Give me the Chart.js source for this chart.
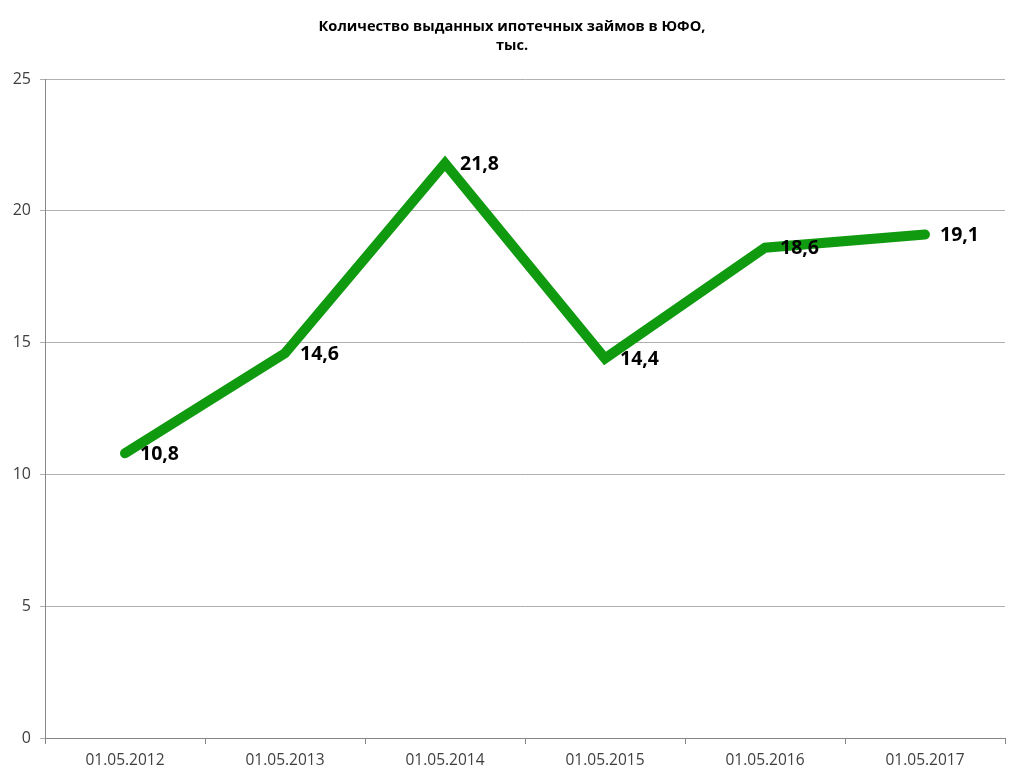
<!DOCTYPE html>
<html>
<head>
<meta charset="utf-8">
<script src="https://cdn.jsdelivr.net/npm/chart.js@4.4.1/dist/chart.umd.min.js"></script>
<style>
html,body{margin:0;padding:0;background:#fff;}
canvas{display:block;}
</style>
</head>
<body>
<canvas id="c" width="1024" height="783"></canvas>
<script>
const categories = ["01.05.2012","01.05.2013","01.05.2014","01.05.2015","01.05.2016","01.05.2017"];
const values = [10.8, 14.6, 21.8, 14.4, 18.6, 19.1];
const valueLabels = ["10,8","14,6","21,8","14,4","18,6","19,1"];
const titleLines = ["Количество выданных ипотечных займов в ЮФО,", "тыс."];

const titlePlugin = {
  id: 'titleDraw',
  afterDraw(chart) {
    const ctx = chart.ctx;
    ctx.save();
    ctx.fillStyle = '#000';
    ctx.font = 'bold 14.6px "Open Sans", sans-serif';
    ctx.textAlign = 'center';
    ctx.textBaseline = 'middle';
    ctx.fillText(titleLines[0], 512, 27);
    ctx.fillText(titleLines[1], 512, 46);
    ctx.restore();
  }
};

const labelPlugin = {
  id: 'valueLabels',
  afterDatasetsDraw(chart) {
    const ctx = chart.ctx;
    const meta = chart.getDatasetMeta(0);
    ctx.save();
    ctx.fillStyle = '#000';
    ctx.font = 'bold 19.5px "Open Sans", sans-serif';
    ctx.textAlign = 'left';
    ctx.textBaseline = 'middle';
    meta.data.forEach((pt, i) => {
      ctx.fillText(valueLabels[i], pt.x + 15, pt.y + 1);
    });
    ctx.restore();
  }
};

new Chart(document.getElementById('c'), {
  type: 'line',
  data: {
    labels: categories,
    datasets: [{
      data: values,
      borderColor: '#0f9a0f',
      borderWidth: 10,
      borderCapStyle: 'round',
      borderJoinStyle: 'miter',
      pointRadius: 0,
      pointHoverRadius: 0,
      tension: 0,
      fill: false
    }]
  },
  options: {
    responsive: false,
    animation: false,
    events: [],
    layout: { padding: { top: 79, right: 19, left: 0, bottom: 0 } },
    plugins: { legend: { display: false }, title: { display: false }, tooltip: { enabled: false } },
    scales: {
      x: {
        offset: true,
        grid: { offset: true, drawOnChartArea: false, drawTicks: true, tickLength: 6, color: '#868686' },
        border: { color: '#868686', width: 1 },
        ticks: { color: '#404040', font: { size: 15.5, family: '"Open Sans", sans-serif' }, padding: 7, maxRotation: 0 },
        afterFit(scale) { scale.height = 45; }
      },
      y: {
        min: 0, max: 25,
        ticks: { stepSize: 5, color: '#404040', font: { size: 16, family: '"Open Sans", sans-serif' }, padding: 9 },
        grid: { color: '#b0b0b0', tickLength: 5, drawTicks: true },
        border: { color: '#868686', width: 1 },
        afterFit(scale) { scale.width = 45; }
      }
    }
  },
  plugins: [titlePlugin, labelPlugin]
});
</script>
</body>
</html>
